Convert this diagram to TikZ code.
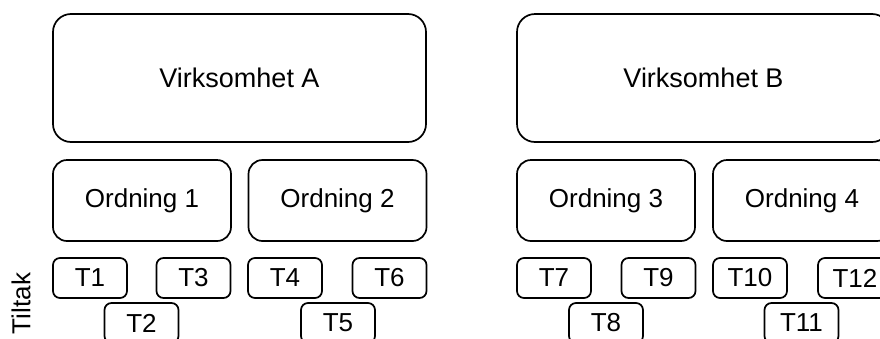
\documentclass[tikz,border=0pt]{standalone}
\usepackage{fontspec}
\setmainfont{Liberation Sans}
\begin{document}
\begin{tikzpicture}[x=1pt,y=-1pt,
  base/.style={draw=black, line width=1.7pt, fill=white, inner sep=0pt,
    font=\fontsize{26}{30}\selectfont, text=black},
  bigbox/.style={base, rounded corners=18pt, minimum width=373pt, minimum height=128pt,
    font=\fontsize{27}{31}\selectfont},
  ordbox/.style={base, rounded corners=14pt, minimum width=178pt, minimum height=81pt},
  tbox/.style={base, rounded corners=7pt, minimum width=74pt, minimum height=40pt}]
\useasboundingbox (0,0) rectangle (880,338);
\clip (0,0) rectangle (880,338);
% top level
\node[bigbox] (va) at (239.5,78) {Virksomhet A};
\node[bigbox] (vb) at (703.5,78) {Virksomhet B};
% ordninger
\node[ordbox] (o1) at (142,200.5) {Ordning 1};
\node[ordbox] (o2) at (337.5,200.5) {Ordning 2};
\node[ordbox] (o3) at (606,200.5) {Ordning 3};
\node[ordbox] (o4) at (802,200.5) {Ordning 4};
% tiltak row 1
\node[tbox] (t1) at (90,278) {T1};
\node[tbox] (t3) at (193.5,278) {T3};
\node[tbox] (t4) at (285,278) {T4};
\node[tbox] (t6) at (389.5,278) {T6};
\node[tbox] (t7) at (554,278) {T7};
\node[tbox] (t9) at (658.5,278) {T9};
\node[tbox] (t10) at (750,278) {T10};
\node[tbox] (t12) at (855,278) {T12};
% tiltak row 2
\node[tbox] (t2) at (141.5,323) {T2};
\node[tbox] (t5) at (338,323) {T5};
\node[tbox] (t8) at (606,323) {T8};
\node[tbox] (t11) at (801.5,323) {T11};
% label
\node[rotate=90, inner sep=0pt, font=\fontsize{26}{30}\selectfont] (tiltak) at (21,303.5) {Tiltak};
\end{tikzpicture}
\end{document}
